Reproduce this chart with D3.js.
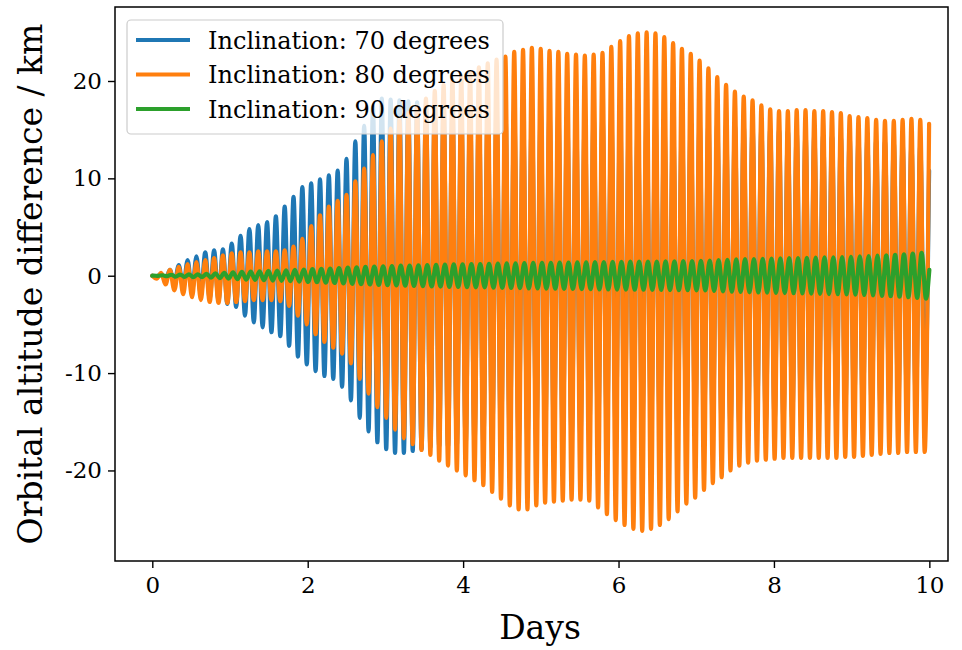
<!DOCTYPE html>
<html>
<head>
<meta charset="utf-8">
<script src="https://cdn.jsdelivr.net/npm/d3@7"></script>
<style>
  body { margin: 0; background: #fff; }
  text { font-family: "DejaVu Serif", serif; fill: #000; }
</style>
</head>
<body>
<script>
// orbit period (days)
let orbitPeriod = 0.1136;

let xTicks = [0, 2, 4, 6, 8, 10];
let yTicks = [-20, -10, 0, 10, 20];

let seriesNames = ["Inclination: 70 degrees", "Inclination: 80 degrees", "Inclination: 90 degrees"];
let seriesColors = ["#1f77b4", "#ff7f0e", "#2ca02c"];

// peak / trough of each orbit (km)
let blueMax = [0.2,0.6,1.1,1.6,2.0,2.4,2.6,2.7,3.3,4.1,
  4.8,5.2,5.5,6.1,7.1,8.1,9.1,9.5,9.9,10.3,
  10.8,12.0,13.8,15.4,17.4,18.2,18.1,18.0,17.9,17.8,
  17.6,17.5,17.5,17.4,17.4,17.3,17.3,17.2,17.2,17.1,
  17.1,17.0,17.0,16.9,16.9,16.8,16.8,16.7,16.7,16.6,
  16.6,16.5,16.5,16.4,16.4,16.3,16.3,16.2,16.2,16.1,
  16.0,15.9,15.8,15.7,15.6,15.5,15.4,15.3,15.2,15.1,
  15.0,14.9,14.8,14.7,14.6,14.5,14.4,14.3,14.2,14.1,
  14.0,13.9,13.8,13.7,13.6,13.5,13.4,10.8];
let blueMin = [-0.1,-0.4,-0.8,-1.2,-1.6,-2.0,-2.3,-2.5,-2.9,-3.2,
  -4.1,-4.8,-5.3,-5.8,-6.2,-7.2,-8.3,-9.1,-9.8,-10.3,
  -10.6,-11.4,-12.8,-14.6,-16.0,-17.1,-17.8,-18.2,-18.2,-18.0,
  -17.8,-17.6,-17.5,-17.5,-17.4,-17.4,-17.3,-17.3,-17.2,-17.2,
  -17.1,-17.0,-17.0,-16.9,-16.9,-16.8,-16.8,-16.7,-16.7,-16.6,
  -16.6,-16.5,-16.5,-16.4,-16.4,-16.3,-16.3,-16.2,-16.2,-16.1,
  -16.0,-15.9,-15.8,-15.7,-15.6,-15.5,-15.4,-15.3,-15.2,-15.1,
  -15.0,-14.9,-14.8,-14.7,-14.6,-14.5,-14.4,-14.3,-14.2,-14.1,
  -14.0,-13.9,-13.8,-13.7,-13.6,-13.5,-13.4,-13.3];

let orangeMax = [0.3,0.6,0.9,1.2,1.4,1.6,1.8,2.1,2.3,2.4,
  2.4,2.5,2.5,2.5,2.6,3.0,3.8,5.1,6.2,7.1,
  7.7,8.3,9.7,11.0,12.4,13.8,15.1,16.1,16.7,17.4,
  18.2,19.0,19.6,20.1,20.5,20.9,21.4,21.8,22.2,22.5,
  23.0,23.2,23.4,23.3,23.1,23.0,22.8,22.7,22.6,22.7,
  22.9,23.5,24.1,24.6,24.9,25.0,24.9,24.5,23.9,23.3,
  22.8,22.1,21.3,20.4,19.6,18.9,18.4,18.0,17.5,17.1,
  16.9,16.9,17.0,17.0,16.9,16.9,16.8,16.7,16.4,16.3,
  16.2,16.0,15.9,15.9,16.0,16.1,16.0,15.6];
let orangeMin = [-0.3,-0.9,-1.5,-1.9,-2.2,-2.5,-2.7,-2.8,-2.8,-2.7,
  -2.6,-2.5,-2.5,-2.5,-2.6,-3.1,-4.1,-5.0,-6.0,-6.8,
  -7.4,-8.0,-9.0,-10.6,-12.1,-13.5,-14.6,-15.8,-16.7,-17.3,
  -17.9,-18.4,-19.0,-19.5,-20.0,-20.5,-21.0,-21.5,-22.2,-22.9,
  -23.6,-24.0,-24.0,-23.6,-23.3,-23.2,-23.1,-23.0,-23.0,-23.1,
  -23.8,-24.5,-25.1,-25.6,-26.0,-26.2,-26.0,-25.6,-25.0,-24.2,
  -23.4,-22.8,-22.0,-21.3,-20.7,-20.0,-19.5,-19.2,-19.0,-18.9,
  -18.8,-18.7,-18.7,-18.7,-18.7,-18.7,-18.7,-18.7,-18.6,-18.6,
  -18.5,-18.4,-18.3,-18.2,-18.2,-18.1,-18.1,-18.1];

let greenMax = [0.02,0.05,0.1,0.12,0.14,0.15,0.2,0.25,0.3,0.35,
  0.4,0.42,0.46,0.5,0.52,0.56,0.6,0.64,0.67,0.7,
  0.74,0.78,0.83,0.87,0.9,0.94,0.97,1.0,1.03,1.05,
  1.07,1.1,1.12,1.14,1.16,1.18,1.2,1.2,1.22,1.24,
  1.26,1.28,1.3,1.31,1.32,1.33,1.35,1.36,1.37,1.38,
  1.4,1.41,1.42,1.43,1.44,1.44,1.45,1.46,1.47,1.48,
  1.49,1.5,1.52,1.56,1.6,1.64,1.67,1.7,1.72,1.74,
  1.76,1.78,1.8,1.82,1.84,1.86,1.88,1.9,1.92,1.95,
  1.98,2.02,2.06,2.1,2.15,2.2,2.28,2.35];
let greenMin = [-0.02,-0.05,-0.1,-0.12,-0.14,-0.15,-0.2,-0.25,-0.3,-0.35,
  -0.4,-0.42,-0.46,-0.5,-0.52,-0.56,-0.6,-0.64,-0.67,-0.7,
  -0.74,-0.78,-0.83,-0.87,-0.9,-0.94,-0.97,-1.0,-1.03,-1.05,
  -1.07,-1.1,-1.12,-1.14,-1.16,-1.18,-1.2,-1.2,-1.22,-1.24,
  -1.26,-1.28,-1.3,-1.31,-1.32,-1.33,-1.35,-1.36,-1.37,-1.38,
  -1.4,-1.41,-1.42,-1.43,-1.44,-1.44,-1.45,-1.46,-1.47,-1.48,
  -1.49,-1.5,-1.52,-1.56,-1.6,-1.64,-1.67,-1.7,-1.72,-1.74,
  -1.76,-1.78,-1.8,-1.82,-1.84,-1.86,-1.88,-1.9,-1.92,-1.95,
  -1.98,-2.02,-2.06,-2.1,-2.15,-2.2,-2.28,-2.35];
let greenEnd = 0.6;

let svg = d3.select('body')
  .append('svg')
  .attr("width", 962)
  .attr("height", 650);

let plotLeft = 115, plotRight = 948, plotTop = 7, plotBottom = 561;

let x = d3.scaleLinear().domain([-0.48, 10.24]).range([plotLeft, plotRight]);
let y = d3.scaleLinear().domain([-29.3, 27.6]).range([plotBottom, plotTop]);

svg.append("clipPath").attr("id", "plotclip")
  .append("rect")
  .attr("x", plotLeft).attr("y", plotTop)
  .attr("width", plotRight - plotLeft).attr("height", plotBottom - plotTop);

// turn the per-orbit extremes into a time series
function orbitPoints(maxima, minima, maxShift, minShift, endValue) {
  let pts = [[0, 0]];
  maxima.forEach((v, i) => pts.push([(i + 1 - maxShift) * orbitPeriod, v]));
  minima.forEach((v, i) => pts.push([(i + 1 - minShift) * orbitPeriod, v]));
  pts.sort((a, b) => a[0] - b[0]);
  if (endValue !== undefined) pts.push([10, endValue]);
  return pts;
}

let allSeries = [
  orbitPoints(blueMax, blueMin, 0, 0.5),
  orbitPoints(orangeMax, orangeMin, 0, 0.5),
  orbitPoints(greenMax, greenMin, 0.85, 0.35, greenEnd)
];

let lineFunction = d3.line()
  .x(d => x(d[0]))
  .y(d => y(d[1]))
  .curve(d3.curveMonotoneX);

let plot = svg.append("g").attr("clip-path", "url(#plotclip)");
allSeries.forEach((pts, i) => {
  plot.append("path")
    .attr("d", lineFunction(pts))
    .attr("stroke", seriesColors[i])
    .attr("stroke-width", 4.2)
    .attr("stroke-linejoin", "round")
    .attr("stroke-linecap", "round")
    .attr("fill", "none");
});

// axes
let xAxis = svg.append("g")
  .attr("transform", `translate(0,${plotBottom})`)
  .call(d3.axisBottom(x).tickValues(xTicks).tickSize(7).tickPadding(9).tickFormat(d => String(d)));
let yAxis = svg.append("g")
  .attr("transform", `translate(${plotLeft},0)`)
  .call(d3.axisLeft(y).tickValues(yTicks).tickSize(7).tickPadding(6).tickFormat(d => String(d)));

[xAxis, yAxis].forEach(a => {
  a.select(".domain").remove();
  a.selectAll(".tick line").attr("stroke", "#000").attr("stroke-width", 1.4);
  a.selectAll(".tick text")
    .style("font-family", "'DejaVu Serif', serif")
    .style("font-size", "23px")
    .attr("fill", "#000");
});

svg.append("rect")
  .attr("x", plotLeft).attr("y", plotTop)
  .attr("width", plotRight - plotLeft).attr("height", plotBottom - plotTop)
  .attr("fill", "none")
  .attr("stroke", "#000")
  .attr("stroke-width", 1.5);

svg.append("text")
  .attr("x", 540)
  .attr("y", 639)
  .attr("text-anchor", "middle")
  .style("font-size", "33px")
  .text("Days");

svg.append("text")
  .attr("transform", `translate(42,${(plotTop + plotBottom) / 2}) rotate(-90)`)
  .attr("text-anchor", "middle")
  .style("font-size", "33px")
  .text("Orbital altitude difference / km");

// legend
let legend = svg.append("g");
legend.append("rect")
  .attr("x", 127).attr("y", 20)
  .attr("width", 376).attr("height", 114)
  .attr("rx", 4)
  .attr("fill", "#fff")
  .attr("fill-opacity", 0.8)
  .attr("stroke", "#cccccc")
  .attr("stroke-width", 1.2);

seriesNames.forEach((name, i) => {
  let ly = 40 + i * 34.5;
  legend.append("line")
    .attr("x1", 136).attr("x2", 190)
    .attr("y1", ly).attr("y2", ly)
    .attr("stroke", seriesColors[i])
    .attr("stroke-width", 4);
  legend.append("text")
    .attr("x", 208).attr("y", ly + 8.5)
    .style("font-size", "24px")
    .text(name);
});
</script>
</body>
</html>
